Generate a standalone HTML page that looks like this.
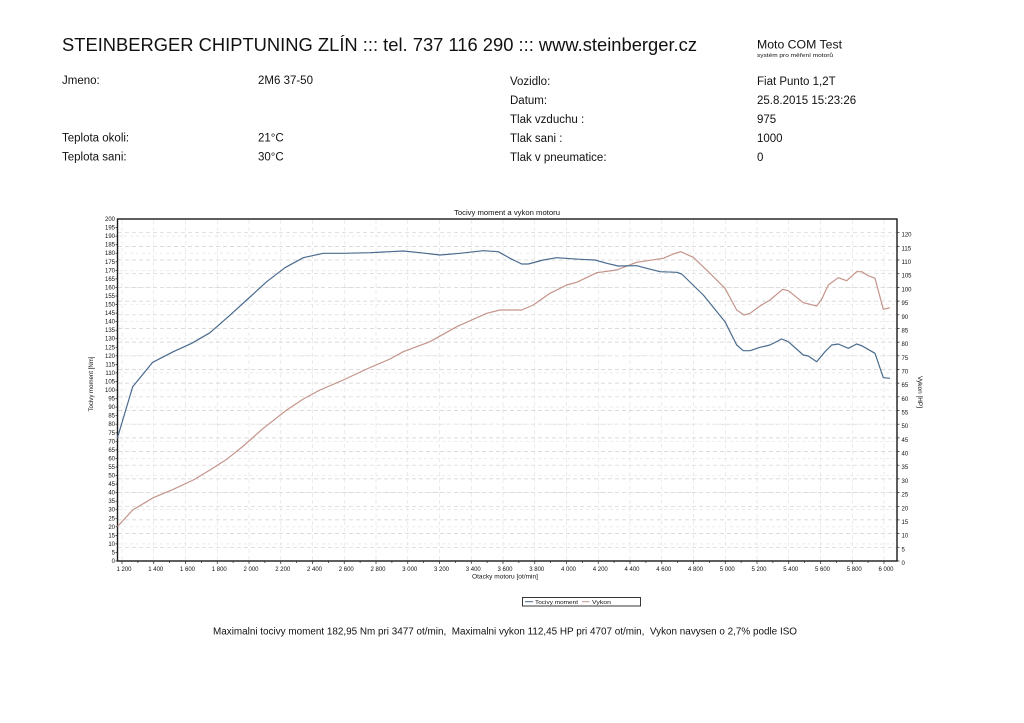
<!DOCTYPE html>
<html>
<head>
<meta charset="utf-8">
<style>
  html,body{margin:0;padding:0;background:#fff;}
  svg{display:block;}
  text{font-family:"Liberation Sans",Arial,sans-serif;fill:#111;}
</style>
</head>
<body>
<svg width="1024" height="723" viewBox="0 0 1024 723" xmlns="http://www.w3.org/2000/svg">
  <rect x="0" y="0" width="1024" height="723" fill="#fff"/>

  <!-- Header -->
  <text x="62" y="51" font-size="18.5" textLength="635" lengthAdjust="spacingAndGlyphs">STEINBERGER CHIPTUNING ZLÍN ::: tel. 737 116 290 ::: www.steinberger.cz</text>
  <text x="757" y="48.3" font-size="12" textLength="85" lengthAdjust="spacingAndGlyphs">Moto COM Test</text>
  <text x="757" y="57" font-size="5.5" textLength="76" lengthAdjust="spacingAndGlyphs">systém pro měření motorů</text>

  <!-- Info rows -->
  <g font-size="11.5">
    <text x="62" y="84">Jmeno:</text>
    <text x="258" y="84">2M6 37-50</text>
    <text x="62" y="141.5">Teplota okoli:</text>
    <text x="258" y="141.5">21°C</text>
    <text x="62" y="160.5">Teplota sani:</text>
    <text x="258" y="160.5">30°C</text>

    <text x="510" y="85">Vozidlo:</text>
    <text x="510" y="104">Datum:</text>
    <text x="510" y="123">Tlak vzduchu :</text>
    <text x="510" y="142">Tlak sani :</text>
    <text x="510" y="161">Tlak v pneumatice:</text>

    <text x="757" y="85">Fiat Punto 1,2T</text>
    <text x="757" y="104">25.8.2015 15:23:26</text>
    <text x="757" y="123">975</text>
    <text x="757" y="142">1000</text>
    <text x="757" y="161">0</text>
  </g>

  <!-- Chart title -->
  <text x="507" y="215" font-size="7" text-anchor="middle" textLength="106" lengthAdjust="spacingAndGlyphs">Tocivy moment a vykon motoru</text>

  <!-- Grid -->
  <g stroke="#dedede" stroke-width="0.6" stroke-dasharray="4,3" fill="none">
    <path d="M122,220V560 M153.75,220V560 M185.5,220V560 M217.25,220V560 M249,220V560 M280.75,220V560 M312.5,220V560 M344.25,220V560 M376,220V560 M407.75,220V560 M439.5,220V560 M471.25,220V560 M503,220V560 M534.75,220V560 M566.5,220V560 M598.25,220V560 M630,220V560 M661.75,220V560 M693.5,220V560 M725.25,220V560 M757,220V560 M788.75,220V560 M820.5,220V560 M852.25,220V560 M884,220V560"/>
  </g>
  <g stroke="#cfcfcf" stroke-width="0.7" stroke-dasharray="4,3" fill="none">
    <path d="M118,547.3H896 M118,533.6H896 M118,519.9H896 M118,506.3H896 M118,492.6H896 M118,478.9H896 M118,465.2H896 M118,451.6H896 M118,437.9H896 M118,424.2H896 M118,410.5H896 M118,396.8H896 M118,383.1H896 M118,369.5H896 M118,355.8H896 M118,342.1H896 M118,328.4H896 M118,314.8H896 M118,301.1H896 M118,287.4H896 M118,273.7H896 M118,260H896 M118,246.4H896 M118,232.7H896"/>
  </g>
  <g stroke="#e0e0e0" stroke-width="0.6" stroke-dasharray="3,3" fill="none">
    <path d="M118,543.9H896 M118,526.8H896 M118,509.7H896 M118,492.6H896 M118,475.5H896 M118,458.4H896 M118,441.3H896 M118,424.2H896 M118,407.1H896 M118,390H896 M118,372.9H896 M118,355.8H896 M118,338.7H896 M118,321.6H896 M118,304.5H896 M118,287.4H896 M118,270.3H896 M118,253.2H896 M118,236.1H896"/>
  </g>

  <!-- Frame -->
  <rect x="117.5" y="219" width="779.5" height="342" fill="none" stroke="#1a1a1a" stroke-width="1.4"/>

  <!-- Axis titles -->
  <text transform="translate(93,384) rotate(-90)" font-size="6" text-anchor="middle" textLength="55" lengthAdjust="spacingAndGlyphs">Tocivy moment [Nm]</text>
  <text transform="translate(918,392) rotate(90)" font-size="6" text-anchor="middle" textLength="32" lengthAdjust="spacingAndGlyphs">Vykon [HP]</text>
  <text x="505" y="578.5" font-size="6" text-anchor="middle" textLength="66" lengthAdjust="spacingAndGlyphs">Otacky motoru [ot/min]</text>

  <!-- Series -->
  <polyline fill="none" stroke="#c4948a" stroke-width="1.2" stroke-linejoin="round"
    points="117.3,526.7 132.7,510 153.3,497.7 173.3,489.3 193.3,480 210,470 226.7,459.3 243.3,446 263.3,428.3 286.7,410 303.3,399 320,390 343.3,380 366.7,369 390,359 403.3,351.7 430,341.7 456.7,326.7 486.7,313.3 500,310 521.7,310 533.3,305 550,293.3 566.7,285 576.7,282.3 596.7,272.7 616.7,270 636.7,262.3 663.3,258.3 673.3,254 680.7,251.7 693.3,257.3 710,273.3 725,288.3 736.7,310 744,315 750,313.3 760,306 770,300 782.7,289.3 788.3,290.7 803.3,302.7 816.7,306 821.7,299.3 828.3,285 838.3,277.7 846.7,280.7 856.7,271.7 861.7,271.7 868.3,275.7 875,278.3 883.3,309.3 890,307.7"/>
  <polyline fill="none" stroke="#4a6b8e" stroke-width="1.2" stroke-linejoin="round"
    points="117.3,438.3 132.7,386.7 152.7,362.3 173.3,351.7 191.7,343.3 210,332.7 228.3,316.7 246.7,300 266.7,281.7 285,267.7 303.3,257.7 323.3,253.3 343.3,253.3 370,252.7 390,251.7 403.3,251 420,252.7 440,255 460,253.3 483.3,250.7 498.3,251.7 510,258.3 521.7,264 528.3,264 543.3,260 556.7,257.7 580,259.3 595,260 606.7,263.3 618.3,266 636.7,265.7 646.7,268.3 660,271.7 676.7,272.3 681.7,274 703.3,295 725,321.7 736.7,345 743.3,350.7 750,350.7 760,347.3 770,345 781.7,339 788.3,341.7 803.3,355 808.3,356 816.7,361.7 825,351.7 831.7,345 838.3,344 848.3,348.3 856.7,344 861.7,345.7 875,353.3 883.3,377.7 890,378.3"/>

  <!-- Legend -->
  <rect x="522.5" y="597.5" width="118" height="8.5" fill="#fff" stroke="#222" stroke-width="0.9"/>
  <line x1="525" y1="601.7" x2="533" y2="601.7" stroke="#4a6b8e" stroke-width="1"/>
  <text x="535" y="603.8" font-size="5.8" textLength="43" lengthAdjust="spacingAndGlyphs">Tocivy moment</text>
  <line x1="582" y1="601.7" x2="589.5" y2="601.7" stroke="#c4948a" stroke-width="1"/>
  <text x="592" y="603.8" font-size="5.8" textLength="19" lengthAdjust="spacingAndGlyphs">Vykon</text>

  <!-- Footer -->
  <text x="213" y="634.5" font-size="10" textLength="584" lengthAdjust="spacingAndGlyphs" xml:space="preserve">Maximalni tocivy moment 182,95 Nm pri 3477 ot/min,  Maximalni vykon 112,45 HP pri 4707 ot/min,  Vykon navysen o 2,7% podle ISO</text>

  <!-- Axis ticks and labels -->
  <g font-size="6" text-anchor="end">
    <text x="115" y="563">0</text><text x="115" y="554.5">5</text><text x="115" y="545.9">10</text><text x="115" y="537.4">15</text><text x="115" y="528.8">20</text><text x="115" y="520.3">25</text><text x="115" y="511.7">30</text><text x="115" y="503.2">35</text><text x="115" y="494.6">40</text><text x="115" y="486.1">45</text><text x="115" y="477.5">50</text><text x="115" y="469">55</text><text x="115" y="460.4">60</text><text x="115" y="451.9">65</text><text x="115" y="443.3">70</text><text x="115" y="434.8">75</text><text x="115" y="426.2">80</text><text x="115" y="417.7">85</text><text x="115" y="409.1">90</text><text x="115" y="400.6">95</text><text x="115" y="392">100</text><text x="115" y="383.5">105</text><text x="115" y="374.9">110</text><text x="115" y="366.4">115</text><text x="115" y="357.8">120</text><text x="115" y="349.3">125</text><text x="115" y="340.7">130</text><text x="115" y="332.2">135</text><text x="115" y="323.6">140</text><text x="115" y="315.1">145</text><text x="115" y="306.5">150</text><text x="115" y="298">155</text><text x="115" y="289.4">160</text><text x="115" y="280.9">165</text><text x="115" y="272.3">170</text><text x="115" y="263.8">175</text><text x="115" y="255.2">180</text><text x="115" y="246.7">185</text><text x="115" y="238.1">190</text><text x="115" y="229.6">195</text><text x="115" y="221">200</text>
  </g>
  <g stroke="#222" stroke-width="0.7">
    <path d="M115.5,561H118 M115.5,552.5H118 M115.5,543.9H118 M115.5,535.4H118 M115.5,526.8H118 M115.5,518.3H118 M115.5,509.7H118 M115.5,501.2H118 M115.5,492.6H118 M115.5,484.1H118 M115.5,475.5H118 M115.5,467H118 M115.5,458.4H118 M115.5,449.9H118 M115.5,441.3H118 M115.5,432.8H118 M115.5,424.2H118 M115.5,415.7H118 M115.5,407.1H118 M115.5,398.6H118 M115.5,390H118 M115.5,381.5H118 M115.5,372.9H118 M115.5,364.4H118 M115.5,355.8H118 M115.5,347.3H118 M115.5,338.7H118 M115.5,330.2H118 M115.5,321.6H118 M115.5,313.1H118 M115.5,304.5H118 M115.5,296H118 M115.5,287.4H118 M115.5,278.9H118 M115.5,270.3H118 M115.5,261.8H118 M115.5,253.2H118 M115.5,244.7H118 M115.5,236.1H118 M115.5,227.6H118"/>
    <path d="M897,561H899.5 M897,547.3H899.5 M897,533.6H899.5 M897,519.9H899.5 M897,506.3H899.5 M897,492.6H899.5 M897,478.9H899.5 M897,465.2H899.5 M897,451.6H899.5 M897,437.9H899.5 M897,424.2H899.5 M897,410.5H899.5 M897,396.8H899.5 M897,383.1H899.5 M897,369.5H899.5 M897,355.8H899.5 M897,342.1H899.5 M897,328.4H899.5 M897,314.8H899.5 M897,301.1H899.5 M897,287.4H899.5 M897,273.7H899.5 M897,260H899.5 M897,246.4H899.5 M897,232.7H899.5"/>
    <path d="M122,561V564 M137.9,561V563 M153.75,561V564 M169.6,561V563 M185.5,561V564 M201.4,561V563 M217.25,561V564 M233.1,561V563 M249,561V564 M264.9,561V563 M280.75,561V564 M296.6,561V563 M312.5,561V564 M328.4,561V563 M344.25,561V564 M360.1,561V563 M376,561V564 M391.9,561V563 M407.75,561V564 M423.6,561V563 M439.5,561V564 M455.4,561V563 M471.25,561V564 M487.1,561V563 M503,561V564 M518.9,561V563 M534.75,561V564 M550.6,561V563 M566.5,561V564 M582.4,561V563 M598.25,561V564 M614.1,561V563 M630,561V564 M645.9,561V563 M661.75,561V564 M677.6,561V563 M693.5,561V564 M709.4,561V563 M725.25,561V564 M741.1,561V563 M757,561V564 M772.9,561V563 M788.75,561V564 M804.6,561V563 M820.5,561V564 M836.4,561V563 M852.25,561V564 M868.1,561V563 M884,561V564"/>
  </g>
  <g font-size="6" text-anchor="start">
    <text x="901.5" y="565">0</text><text x="901.5" y="551.3">5</text><text x="901.5" y="537.6">10</text><text x="901.5" y="523.9">15</text><text x="901.5" y="510.3">20</text><text x="901.5" y="496.6">25</text><text x="901.5" y="482.9">30</text><text x="901.5" y="469.2">35</text><text x="901.5" y="455.6">40</text><text x="901.5" y="441.9">45</text><text x="901.5" y="428.2">50</text><text x="901.5" y="414.5">55</text><text x="901.5" y="400.8">60</text><text x="901.5" y="387.1">65</text><text x="901.5" y="373.5">70</text><text x="901.5" y="359.8">75</text><text x="901.5" y="346.1">80</text><text x="901.5" y="332.4">85</text><text x="901.5" y="318.8">90</text><text x="901.5" y="305.1">95</text><text x="901.5" y="291.4">100</text><text x="901.5" y="277.7">105</text><text x="901.5" y="264">110</text><text x="901.5" y="250.4">115</text><text x="901.5" y="236.7">120</text>
  </g>
  <g font-size="6" text-anchor="middle">
    <text x="124" y="571">1 200</text><text x="155.75" y="571">1 400</text><text x="187.5" y="571">1 600</text><text x="219.25" y="571">1 800</text><text x="251" y="571">2 000</text><text x="282.75" y="571">2 200</text><text x="314.5" y="571">2 400</text><text x="346.25" y="571">2 600</text><text x="378" y="571">2 800</text><text x="409.75" y="571">3 000</text><text x="441.5" y="571">3 200</text><text x="473.25" y="571">3 400</text><text x="505" y="571">3 600</text><text x="536.75" y="571">3 800</text><text x="568.5" y="571">4 000</text><text x="600.25" y="571">4 200</text><text x="632" y="571">4 400</text><text x="663.75" y="571">4 600</text><text x="695.5" y="571">4 800</text><text x="727.25" y="571">5 000</text><text x="759" y="571">5 200</text><text x="790.75" y="571">5 400</text><text x="822.5" y="571">5 600</text><text x="854.25" y="571">5 800</text><text x="886" y="571">6 000</text>
  </g>
</svg>
</body>
</html>
